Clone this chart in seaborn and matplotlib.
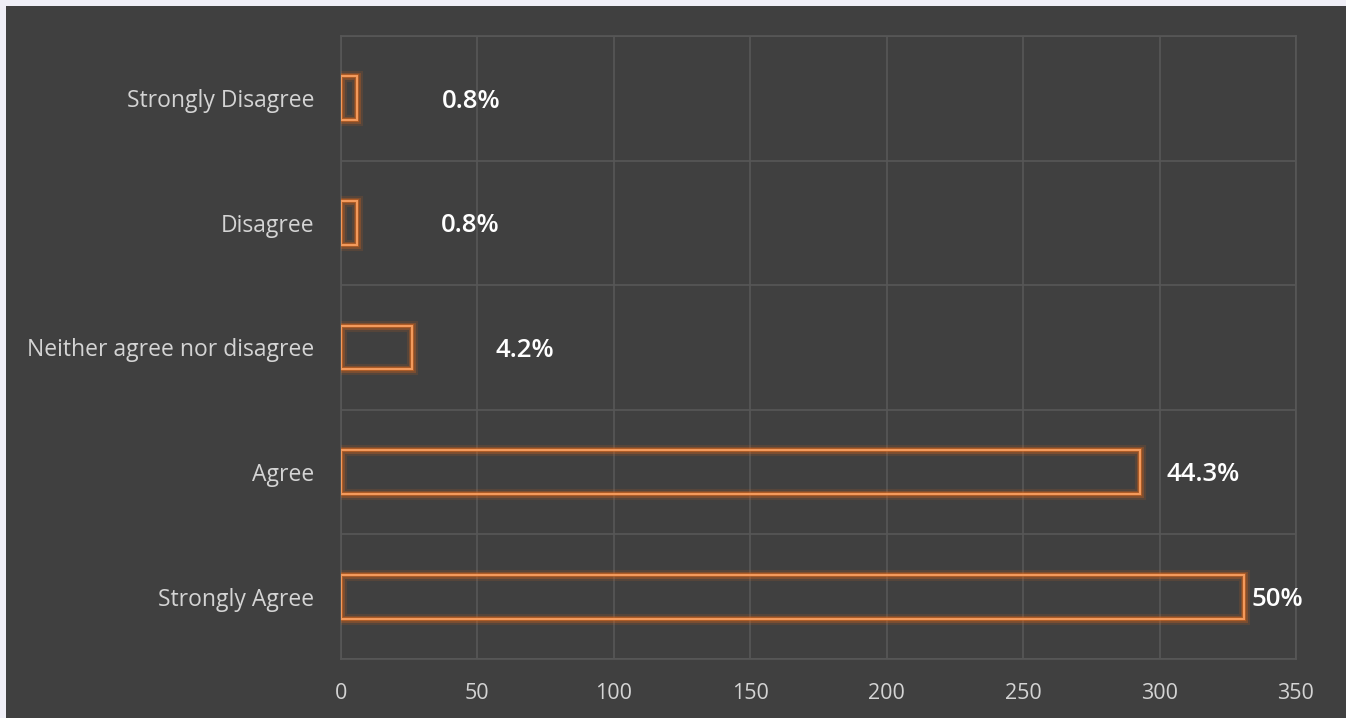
import numpy as np
import pandas as pd
import matplotlib
matplotlib.use("Agg")
import matplotlib.pyplot as plt
import matplotlib.patheffects as pe
from matplotlib.patches import Rectangle
import seaborn as sns

# ---- data ----
categories = ["Strongly Disagree", "Disagree", "Neither agree nor disagree", "Agree", "Strongly Agree"]
counts = [6, 6, 26, 293, 331]
pct_labels = ["0.8%", "0.8%", "4.2%", "44.3%", "50%"]
x_ticks = [0, 50, 100, 150, 200, 250, 300, 350]

# label offsets (points) from bar end, as placed in the original
label_offsets = [61, 60, 60, 19, 5]

sns.set_theme(style="dark")
plt.rcParams["font.family"] = ["Open Sans", "DejaVu Sans"]

BG = "#404040"
GRID = "#575757"
ORANGE = "#f39a5c"
GLOW = "#d8661c"

fig = plt.figure(figsize=(13.46, 7.18), dpi=100, facecolor="#f0eff7")
fig.patches.append(Rectangle((6 / 1346, 0), 1, 1 - 6 / 718, transform=fig.transFigure,
                             facecolor=BG, edgecolor="none", zorder=-10))
ax = fig.add_axes([341 / 1346, 1 - 659 / 718, (1296 - 341) / 1346, (659 - 36) / 718])
ax.set_zorder(1)
ax.set_facecolor(BG)

df = pd.DataFrame({"category": categories, "count": counts})
sns.barplot(data=df, x="count", y="category", order=categories, orient="h",
            fill=False, color=ORANGE, width=0.35, linewidth=1.5, ax=ax, zorder=3)

for p in ax.patches:
    p.set_edgecolor(ORANGE)
    p.set_path_effects([
        pe.Stroke(linewidth=8, foreground=GLOW, alpha=0.15),
        pe.Stroke(linewidth=5, foreground=GLOW, alpha=0.3),
        pe.Stroke(linewidth=3, foreground=GLOW, alpha=0.5),
        pe.Normal(),
    ])

for i, (v, lab, off) in enumerate(zip(counts, pct_labels, label_offsets)):
    ax.annotate(lab, xy=(v, i), xytext=(off, -2), textcoords="offset points",
                ha="left", va="center", color="white", fontsize=18.5,
                fontweight="semibold")

ax.set_xlim(0, 350)
ax.set_ylim(len(categories) - 0.5, -0.5)
ax.set_xticks(x_ticks)
ax.set_xticklabels([str(t) for t in x_ticks])
ax.set_yticks(np.arange(len(categories)))
ax.set_yticklabels(categories)
ax.set_yticks(np.arange(len(categories) + 1) - 0.5, minor=True)
ax.set_xlabel("")
ax.set_ylabel("")

ax.grid(False)
ax.xaxis.grid(True, color=GRID, linewidth=1.2, zorder=0)
ax.yaxis.grid(True, which="minor", color=GRID, linewidth=1.2, zorder=0)
ax.set_axisbelow(True)
for s in ax.spines.values():
    s.set_visible(True)
    s.set_color(GRID)
    s.set_linewidth(1.2)

ax.tick_params(axis="x", which="both", length=0, pad=17, labelsize=15.5, labelcolor="#d4d4d4")
ax.tick_params(axis="y", which="both", length=0, pad=19, labelsize=16.5, labelcolor="#d4d4d4")

fig.savefig("out.png", dpi=100, facecolor=fig.get_facecolor())
